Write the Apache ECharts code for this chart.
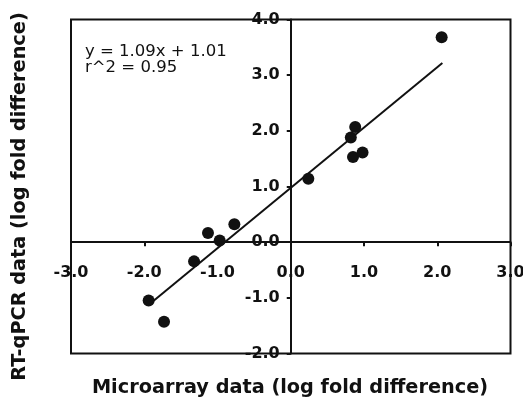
<!DOCTYPE html>
<html>
<head>
<meta charset="utf-8">
<script src="https://cdn.jsdelivr.net/npm/echarts@6/dist/echarts.min.js"></script>
<style>
html,body{margin:0;padding:0;background:#fff;}
#chart{width:523px;height:398px;}
</style>
</head>
<body>
<div id="chart"></div>
<script>
// Data
const microarray = [2.06, 0.88, 0.82, 0.85, 0.98, 0.24, -1.13, -0.97, -0.77, -1.32, -1.94, -1.73];
const rtqpcr     = [3.68, 2.07, 1.88, 1.53, 1.61, 1.14, 0.165, 0.03, 0.32, -0.345, -1.05, -1.43];
const fitX = [-1.88, 2.07];
const fitY = [-1.06, 3.22];
const xTicks = [-3, -2, -1, 0, 1, 2, 3];
const yTicks = [-2, -1, 0, 1, 2, 3, 4];
const xTitle = 'Microarray data (log fold difference)';
const yTitle = 'RT-qPCR data (log fold difference)';
const eqLines = ['y = 1.09x + 1.01', 'r^2 = 0.95'];

const FONT = '"DejaVu Sans", sans-serif';
const INK = '#111';
const chart = echarts.init(document.getElementById('chart'), null, {renderer: 'canvas'});

const points = microarray.map((x, i) => [x, rtqpcr[i]]);
const fitLine = fitX.map((x, i) => [x, fitY[i]]);

const labelStyle = {
  fontFamily: FONT, fontWeight: 'bold', fontSize: 16, color: INK,
  formatter: v => v.toFixed(1)
};

const GRID = {left: 71, right: 12.5, top: 19.5, bottom: 44.5};

chart.setOption({
  animation: false,
  backgroundColor: '#fff',
  grid: Object.assign({
    show: true, borderColor: INK, borderWidth: 2, backgroundColor: 'transparent',
    containLabel: false, outerBoundsMode: 'none'
  }, GRID),
  xAxis: {
    type: 'value', position: 'bottom', min: xTicks[0], max: xTicks[xTicks.length - 1], interval: 1,
    axisLine: {show: true, onZero: false, lineStyle: {color: INK, width: 2}},
    axisTick: {show: true, inside: false, length: 4, lineStyle: {color: INK, width: 2}},
    axisLabel: Object.assign({margin: 23, showMinLabel: true, showMaxLabel: true, hideOverlap: false}, labelStyle),
    splitLine: {show: false}
  },
  yAxis: {
    type: 'value', position: 'left', min: yTicks[0], max: yTicks[yTicks.length - 1], interval: 1,
    axisLine: {show: true, onZero: false, lineStyle: {color: INK, width: 2}},
    axisTick: {show: true, inside: false, length: 4, lineStyle: {color: INK, width: 2}},
    axisLabel: Object.assign({margin: 11, showMinLabel: true, showMaxLabel: true, hideOverlap: false}, labelStyle),
    splitLine: {show: false}
  },
  graphic: [
    {type: 'text', x: 85, y: 52, style: {text: eqLines[0], font: '16.5px ' + FONT, fill: INK, textAlign: 'left', textVerticalAlign: 'middle'}},
    {type: 'text', x: 85, y: 68, style: {text: eqLines[1], font: '16.5px ' + FONT, fill: INK, textAlign: 'left', textVerticalAlign: 'middle'}},
    {type: 'text', x: 290, y: 387.5, style: {text: xTitle, font: 'bold 19.3px ' + FONT, fill: INK, textAlign: 'center', textVerticalAlign: 'middle'}},
    {type: 'text', x: 20, y: 196.5, rotation: Math.PI / 2, style: {text: yTitle, font: 'bold 19.3px ' + FONT, fill: INK, textAlign: 'center', textVerticalAlign: 'middle'}}
  ],
  series: [
    {
      type: 'line', data: fitLine, symbol: 'none', silent: true,
      lineStyle: {color: INK, width: 2}, z: 3
    },
    {
      type: 'scatter', data: points, symbol: 'circle', symbolSize: 12,
      itemStyle: {color: INK, opacity: 1}, z: 4
    }
  ]
});

// Move both axes (line, ticks, labels) onto the zero lines, using the library's own scales
const origin = chart.convertToPixel({gridIndex: 0}, [0, 0]);
const corner = chart.convertToPixel({gridIndex: 0}, [xTicks[0], yTicks[0]]);
chart.setOption({
  xAxis: {offset: -(corner[1] - origin[1])},
  yAxis: {offset: -(origin[0] - corner[0])}
});
</script>
</body>
</html>
